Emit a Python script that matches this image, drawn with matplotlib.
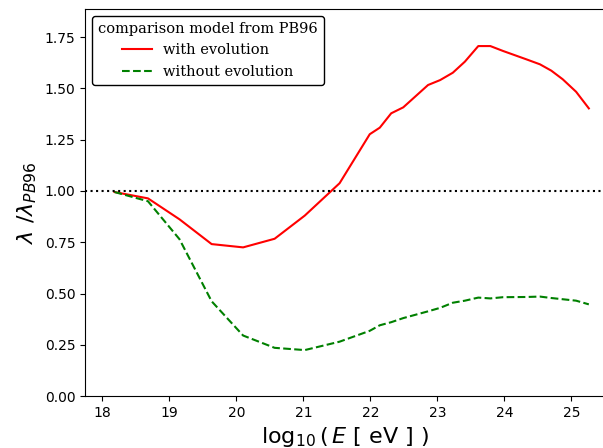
import matplotlib
matplotlib.use("Agg")
import matplotlib.pyplot as plt

log_e = [18.18, 18.68, 19.15, 19.63, 20.10, 20.57, 21.02, 21.54, 21.99, 22.14,
         22.31, 22.49, 22.86, 23.04, 23.23, 23.41, 23.61, 23.79, 23.98, 24.33,
         24.53, 24.70, 24.87, 25.07, 25.26]
with_evolution = [0.995, 0.964, 0.862, 0.741, 0.725, 0.767, 0.880, 1.038, 1.277, 1.309,
                  1.379, 1.408, 1.517, 1.541, 1.577, 1.631, 1.707, 1.707, 1.683, 1.642,
                  1.618, 1.587, 1.545, 1.484, 1.403]
without_evolution = [0.995, 0.950, 0.765, 0.462, 0.295, 0.235, 0.224, 0.265, 0.318, 0.345,
                     0.360, 0.380, 0.413, 0.430, 0.455, 0.465, 0.480, 0.476, 0.482, 0.483,
                     0.485, 0.478, 0.472, 0.465, 0.447]
x_ticks = [18, 19, 20, 21, 22, 23, 24, 25]
y_ticks = [0.00, 0.25, 0.50, 0.75, 1.00, 1.25, 1.50, 1.75]

fig = plt.figure(figsize=(6.03, 4.48), dpi=100)
ax_left_px, ax_right_px = 85.0, 604.0
ax = fig.add_axes([ax_left_px/603, 52/448, (ax_right_px - ax_left_px)/603, (396-9)/448])
ax.plot(log_e, with_evolution, color='red', lw=1.5, label='with evolution')
ax.plot(log_e, without_evolution, color='green', ls='--', lw=1.5, label='without evolution')
ax.axhline(1.0, color='black', ls=':', lw=1.5)
xmin = 17.74
px_per_unit = 67.0
ax.set_xlim(xmin, xmin + (ax_right_px - ax_left_px) / px_per_unit)
ax.set_ylim(0, (396 - 9) / 205.0)
ax.set_xticks(x_ticks)
ax.set_yticks(y_ticks)
ax.set_yticklabels([f"{v:.2f}" for v in y_ticks])
ax.tick_params(labelsize=10)
ax.set_xlabel(r'$\log_{10}(\,E$ [ eV ] )', fontsize=16)
ax.set_ylabel(r'$\lambda$ /$\lambda_{PB96}$', fontsize=16)
leg = ax.legend(title='comparison model from PB96', loc='upper left',
                prop={'family': 'DejaVu Serif', 'size': 10.5}, framealpha=1,
                edgecolor='black')
leg.get_title().set_family('DejaVu Serif')
leg.get_title().set_fontsize(10.5)
fig.savefig('out.png', dpi=100)
